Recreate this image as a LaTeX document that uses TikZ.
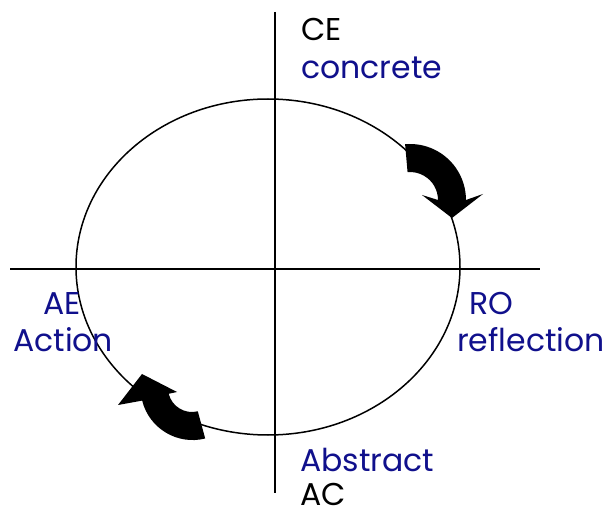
\documentclass[tikz,border=0pt]{standalone}
\usepackage{fontspec}
\setmainfont{Poppins}
\definecolor{navy}{RGB}{16,16,140}
\begin{document}
\begin{tikzpicture}[x=1pt,y=1pt,
  lbl/.style={anchor=base west,inner sep=0pt,font=\fontsize{31.5}{31.5}\selectfont},
  blu/.style={lbl,text=navy},
  axis/.style={line width=1.5pt},
  bigarrow/.style={fill=black,draw=none}]
\useasboundingbox (0,0) rectangle (606,515);
% axes
\coordinate (hl) at (10,246);
\coordinate (hr) at (540,246);
\coordinate (vt) at (275,503);
\coordinate (vb) at (275,22);
\draw[axis] (hl) -- (hr);
\draw[axis] (vt) -- (vb);
% cycle
\coordinate (ec) at (268,248);
\draw[axis] (ec) ellipse [x radius=192, y radius=168];
% arrows
\fill[bigarrow] (405.1,370.8) arc[start angle=95,end angle=0,radius=56]
  -- (483,321) -- (452,297) -- (422,320) -- (438,315)
  arc[start angle=0,end angle=95,radius=28] -- cycle;
\fill[bigarrow] (205.2,76.5) arc[start angle=-76,end angle=-166,radius=52]
  -- (118,110) -- (142,141) -- (177,123) -- (168.7,121.2)
  arc[start angle=-166,end angle=-76,radius=24] -- cycle;
% labels
\node[lbl] (ce) at (301,474) {CE};
\node[blu] (concrete) at (301,436) {concrete};
\node[blu] (ae) at (43,200) {AE};
\node[blu] (action) at (13,163) {Action};
\node[blu] (ro) at (469,200) {RO};
\node[blu] (refl) at (457,163) {reflection};
\node[blu] (abstract) at (300,44) {Abstract};
\node[lbl] (ac) at (300,10) {AC};
\end{tikzpicture}
\end{document}
